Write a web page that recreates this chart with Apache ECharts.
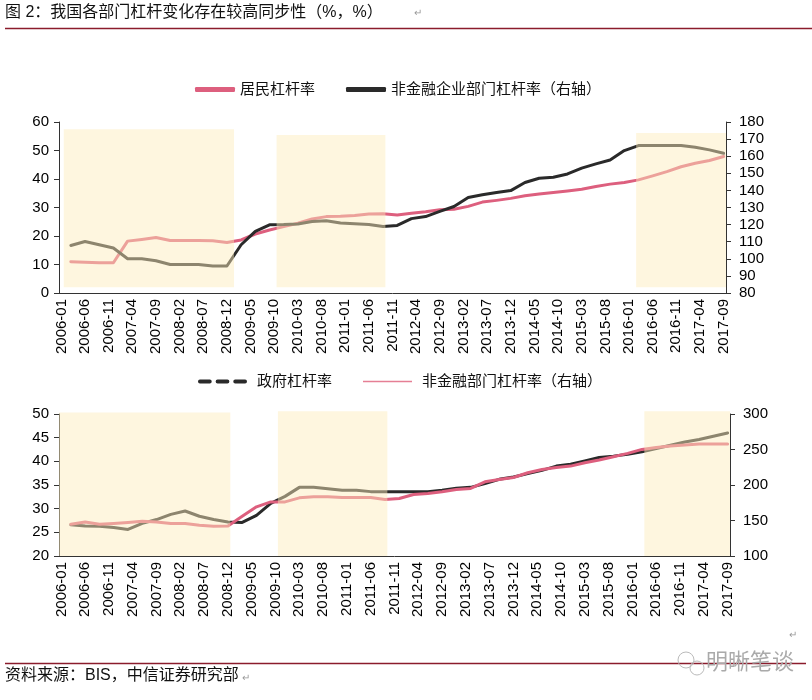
<!DOCTYPE html>
<html><head><meta charset="utf-8">
<script src="https://cdn.jsdelivr.net/npm/echarts@6/dist/echarts.min.js"></script>
<style>html,body{margin:0;padding:0;background:#fff}#c{width:812px;height:700px}</style>
</head><body><div id="c"></div>
<script>
// ---------- data ----------
const startYear = 2006, endYear = 2017, endMonth = 9;
const categories = [];
for (let y = startYear; y <= endYear; y++) {
  for (let m = 1; m <= 12; m++) {
    if (y === endYear && m > endMonth) break;
    categories.push(y + '-' + (m < 10 ? '0' + m : '' + m));
  }
}
// quarterly observations 2006Q1 .. 2017Q3 (quarter-end months)
const quarterLabels = categories.filter(c => ['03','06','09','12'].includes(c.slice(5)));

const household = [11.0,10.8,10.6,10.6, 18.2,18.8,19.5,18.4, 18.4,18.4,18.3,17.7, 18.6,20.7,22.1,23.3,
  24.5,26.0,26.8,26.9, 27.2,27.7,27.8,27.4, 28.0,28.5,29.2,29.4, 30.4,31.9,32.5,33.2,
  34.1,34.7,35.3,35.8, 36.4,37.4,38.2,38.8, 39.7,41.1,42.6,44.3, 45.5,46.5,47.9];
const corporate = [107.8,110.1,108.2,106.3, 100.0,100.0,98.9,96.7, 96.7,96.7,95.8,95.8, 108.2,116.0,119.9,120.0,
  120.4,121.8,122.2,120.9, 120.5,120.1,118.9,119.5, 123.5,124.7,127.7,130.6, 135.8,137.4,138.8,139.9,
  144.6,147.1,147.7,149.6, 153.0,155.5,157.8,163.3, 166.2,166.2,166.2,166.2, 165.2,163.7,161.7];
const government = [26.6,26.35,26.3,26.0, 25.6,26.9,27.7,28.8, 29.5,28.4,27.7,27.2, 27.1,28.6,31.1,32.6,
  34.5,34.5,34.2,33.9, 33.9,33.6,33.6,33.6, 33.6,33.6,33.9,34.3, 34.5,35.3,36.2,36.7,
  37.4,38.1,39.0,39.4, 40.1,40.8,41.1,41.5, 42.0,42.7,43.4,44.1, 44.6,45.3,46.0];
const nonFinancial = [144.7,148.0,144.7,145.7, 147.1,148.9,148.0,145.7, 145.7,143.3,141.9,142.4, 156.0,169.2,176.2,176.2,
  181.9,183.3,183.3,182.4, 182.4,182.4,179.6,181.0, 186.6,188.0,190.4,193.6, 195.1,204.5,207.8,210.6,
  217.2,221.9,224.7,226.6, 231.3,235.1,239.8,244.5, 250.1,252.9,254.8,256.2, 257.6,257.6,257.6];

// shaded periods [start, end] and their bottom/top value on the left axis
const topShadeStart = ['2006-02','2009-11','2016-03'];
const topShadeEnd   = ['2009-01','2011-09','2017-09'];
const topShadeLow   = [2, 2, 2];
const topShadeHigh  = [57.5, 55.4, 56.1];
const botShadeStart = ['2006-01','2009-11','2016-04'];
const botShadeEnd   = ['2008-12','2011-09','2017-09'];
const botShadeLow   = [20, 20, 20];
const botShadeHigh  = [50.3, 50.6, 50.6];

const topLeftTicks = {min:0, max:60, interval:10};
const topRightTicks = {min:80, max:180, interval:10};
const botLeftTicks = {min:20, max:50, interval:5};
const botRightTicks = {min:100, max:300, interval:50};

// ---------- build ----------
function monthly(arr) {
  return categories.map(c => { const i = quarterLabels.indexOf(c); return i >= 0 ? arr[i] : null; });
}
function spans(s, e, lo, hi) {
  return s.map((v, i) => [categories.indexOf(v), categories.indexOf(e[i]) + 1, lo[i], hi[i]]);
}
const FONT = "'Liberation Sans','Noto Sans CJK SC',sans-serif";
const PINK = '#DD5F7E', BLACK = '#2a2a2a', SHADE = 'rgba(253,235,188,0.47)';
const axisCol = '#333';

function catAxis(gi) {
  return {type:'category', gridIndex:gi, data:categories, boundaryGap:true,
    axisLine:{lineStyle:{color:axisCol, width:1}},
    axisTick:{interval:4, alignWithLabel:true, length:5, lineStyle:{color:axisCol}},
    axisLabel:{interval:4, rotate:90, fontSize:15, color:'#000', fontFamily:FONT, margin:6}};
}
function hidX(gi) {
  return {type:'value', gridIndex:gi, min:0, max:categories.length, show:false};
}
function valAxis(gi, pos, t) {
  return {type:'value', gridIndex:gi, position:pos, min:t.min, max:t.max, interval:t.interval,
    splitLine:{show:false},
    axisLine:{show:true, lineStyle:{color:axisCol}},
    axisTick:{show:true, length:5, lineStyle:{color:axisCol}},
    axisLabel:{fontSize:15, color:'#000', fontFamily:FONT, margin: pos==='left'?10:13}};
}
function line(name, xi, yi, data, color, width) {
  return {name, type:'line', xAxisIndex:xi, yAxisIndex:yi, data:monthly(data), connectNulls:true,
    symbol:'none', showSymbol:false, z:2, animation:false,
    lineStyle:{color, width, cap:'round', join:'round'}, itemStyle:{color}};
}
function shade(xi, yi, data) {
  return {type:'custom', xAxisIndex:xi, yAxisIndex:yi, data, z:10, silent:true, animation:false,
    clip:false,
    renderItem:(params, api) => {
      const p0 = api.coord([api.value(0), api.value(2)]);
      const p1 = api.coord([api.value(1), api.value(3)]);
      return {type:'rect', shape:{x:p0[0], y:p1[1], width:p1[0]-p0[0], height:p0[1]-p1[1]},
        style:{fill:SHADE}};
    }};
}

const chart = echarts.init(document.getElementById('c'));
chart.setOption({
  animation:false,
  backgroundColor:'#fff',
  grid:[
    {left:59, right:86, top:122, height:171},
    {left:59, right:82, top:414, height:142}
  ],
  xAxis:[catAxis(0), catAxis(1), hidX(0), hidX(1)],
  yAxis:[valAxis(0,'left',topLeftTicks), valAxis(0,'right',topRightTicks),
         valAxis(1,'left',botLeftTicks), valAxis(1,'right',botRightTicks)],
  legend:[
    {left:190, top:77, itemWidth:40, itemHeight:5, itemGap:31, selectedMode:false,
     textStyle:{fontSize:15, color:'#111', fontFamily:FONT},
     data:[{name:'居民杠杆率', icon:'roundRect'}, {name:'非金融企业部门杠杆率（右轴）', icon:'roundRect'}]},
    {left:193, top:369, itemWidth:49, itemHeight:5, itemGap:31, selectedMode:false,
     textStyle:{fontSize:15, color:'#111', fontFamily:FONT, padding:[0,0,0,5]},
     data:[{name:'政府杠杆率', icon:'path://M2,0h10a2,2 0 0 1 0,4h-10a2,2 0 0 1 0,-4z M20,0h10a2,2 0 0 1 0,4h-10a2,2 0 0 1 0,-4z M38,0h10a2,2 0 0 1 0,4h-10a2,2 0 0 1 0,-4z'},
           {name:'非金融部门杠杆率（右轴）', icon:'path://M0,0h48v1.6h-48z', itemStyle:{color:'#E57F95'}}]}
  ],
  series:[
    line('居民杠杆率', 0, 0, household, PINK, 3),
    line('非金融企业部门杠杆率（右轴）', 0, 1, corporate, BLACK, 3),
    line('政府杠杆率', 1, 2, government, BLACK, 3),
    line('非金融部门杠杆率（右轴）', 1, 3, nonFinancial, PINK, 3),
    shade(2, 0, spans(topShadeStart, topShadeEnd, topShadeLow, topShadeHigh)),
    shade(3, 2, spans(botShadeStart, botShadeEnd, botShadeLow, botShadeHigh))
  ],
  graphic:[
    {type:'text', left:5, top:5, style:{text:'图 2：我国各部门杠杆变化存在较高同步性（%，%）', font:'16px '+FONT, fill:'#111'}},
    {type:'text', left:414, top:8, style:{text:'↵', font:'10px '+FONT, fill:'#999'}},
    {type:'line', shape:{x1:5, y1:28.5, x2:812, y2:28.5}, style:{stroke:'#8B1C2C', lineWidth:1.5}},
    {type:'line', shape:{x1:5, y1:663.5, x2:806, y2:663.5}, style:{stroke:'#8B1C2C', lineWidth:1.5}},
    {type:'text', left:5, top:668, style:{text:'资料来源：BIS，中信证券研究部', font:'16px '+FONT, fill:'#111'}},
    {type:'text', left:242, top:673, style:{text:'↵', font:'10px '+FONT, fill:'#999'}},
    {type:'text', left:789, top:630, style:{text:'↵', font:'10px '+FONT, fill:'#999'}},
    {type:'text', left:706, top:652, style:{text:'明晰笔谈', font:'22px '+FONT, fill:'#aaa'}},
    {type:'circle', shape:{cx:686, cy:660, r:8}, style:{fill:'none', stroke:'#bbb', lineWidth:1}},
    {type:'circle', shape:{cx:697, cy:668, r:7}, style:{fill:'none', stroke:'#bbb', lineWidth:1}}
  ]
});
</script></body></html>
